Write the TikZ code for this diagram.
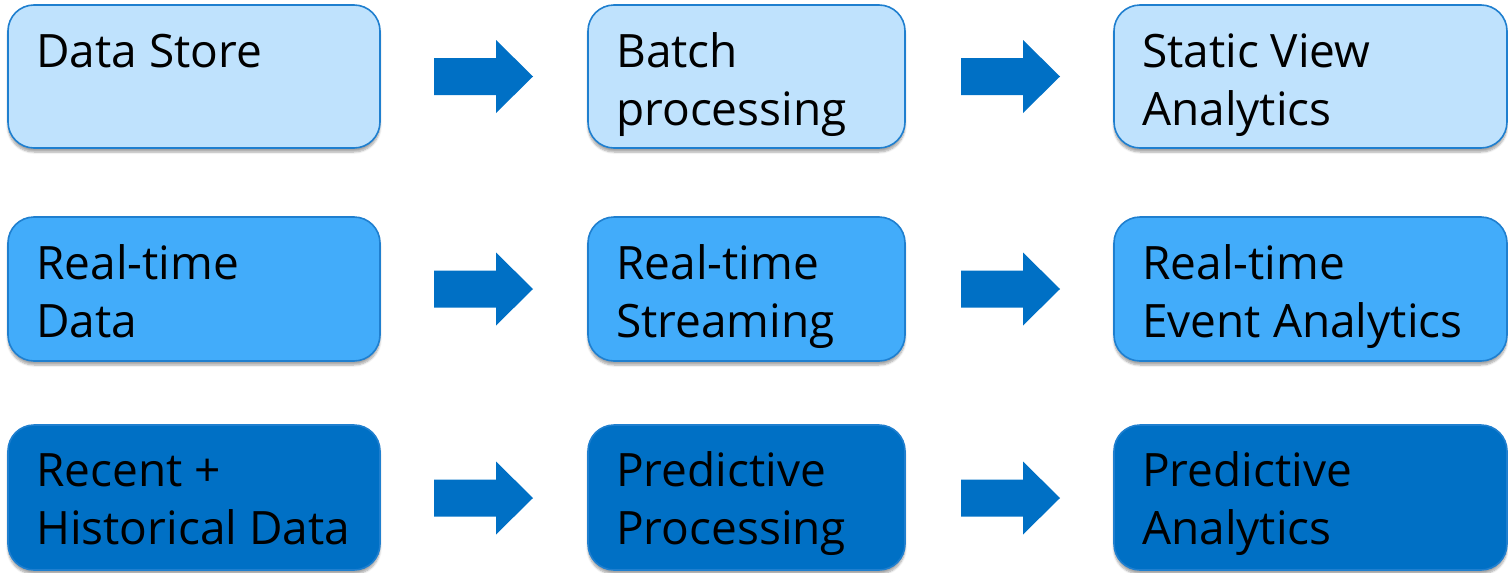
\documentclass[tikz,border=0pt]{standalone}
\usepackage{fontspec}
\setmainfont{Open Sans}
\usetikzlibrary{shadows.blur}
\definecolor{paleblue}{HTML}{BFE2FD}
\definecolor{midblue}{HTML}{42ACFA}
\definecolor{deepblue}{HTML}{0070C5}
\definecolor{edgeblue}{HTML}{1F7FCF}
\tikzset{
  card/.style={draw=edgeblue, line width=1.6pt, rounded corners=26pt,
    blur shadow={shadow xshift=0pt, shadow yshift=-4pt, shadow blur steps=6,
      shadow blur extra rounding=2pt, shadow opacity=35}},
  cardtext/.style={anchor=base west, align=left, inner sep=0pt,
    font=\fontsize{46}{58}\selectfont, text=black},
  blockarrow/.style={fill=deepblue}
}
% box: name, left, top, right, bottom, fill colour
\newcommand{\card}[6]{%
  \path[card, fill=#6] (#2,#3) rectangle (#4,#5);
  \coordinate (#1) at (#2,#3);}
\newcommand{\rowarrow}[3]{%
  \fill[blockarrow] (#2,#3-18.5) -- ++(62,0) -- ++(0,-18) -- (#2+99,#3)
    -- (#2+62,#3+36.5) -- ++(0,-18) -- (#2,#3+18.5) -- cycle;
  \coordinate (#1) at (#2,#3);}
\begin{document}
\begin{tikzpicture}[x=1pt, y=-1pt]
\useasboundingbox (0,0) rectangle (1508,573);

% row 1: batch path
\card{ds}{8}{5}{380}{148}{paleblue}
\card{bp}{588}{5}{905}{148}{paleblue}
\card{sv}{1114}{5}{1507}{148}{paleblue}
% row 2: streaming path
\card{rd}{8}{217}{380}{361}{midblue}
\card{rs}{588}{217}{905}{361}{midblue}
\card{re}{1114}{217}{1507}{361}{midblue}
% row 3: predictive path
\card{hd}{8}{425}{380}{570}{deepblue}
\card{pp}{588}{425}{905}{570}{deepblue}
\card{pa}{1114}{425}{1507}{570}{deepblue}

% two-line labels are placed by the baseline of their second line
\node[cardtext] (tds) at ([shift={(28,62)}]ds) {Data Store};
\node[cardtext] (tbp) at ([shift={(28,120)}]bp) {Batch\\processing};
\node[cardtext] (tsv) at ([shift={(28,120)}]sv) {Static View\\Analytics};
\node[cardtext] (trd) at ([shift={(28,120)}]rd) {Real-time\\Data};
\node[cardtext] (trs) at ([shift={(28,120)}]rs) {Real-time\\Streaming};
\node[cardtext] (tre) at ([shift={(28,120)}]re) {Real-time\\Event Analytics};
\node[cardtext] (thd) at ([shift={(28,119)}]hd) {Recent +\\Historical Data};
\node[cardtext] (tpp) at ([shift={(28,119)}]pp) {Predictive\\Processing};
\node[cardtext] (tpa) at ([shift={(28,119)}]pa) {Predictive\\Analytics};

% block arrows between the columns
\rowarrow{a11}{434}{76.5}
\rowarrow{a12}{961}{76.5}
\rowarrow{a21}{434}{289}
\rowarrow{a22}{961}{289}
\rowarrow{a31}{434}{498}
\rowarrow{a32}{961}{498}
\end{tikzpicture}
\end{document}
